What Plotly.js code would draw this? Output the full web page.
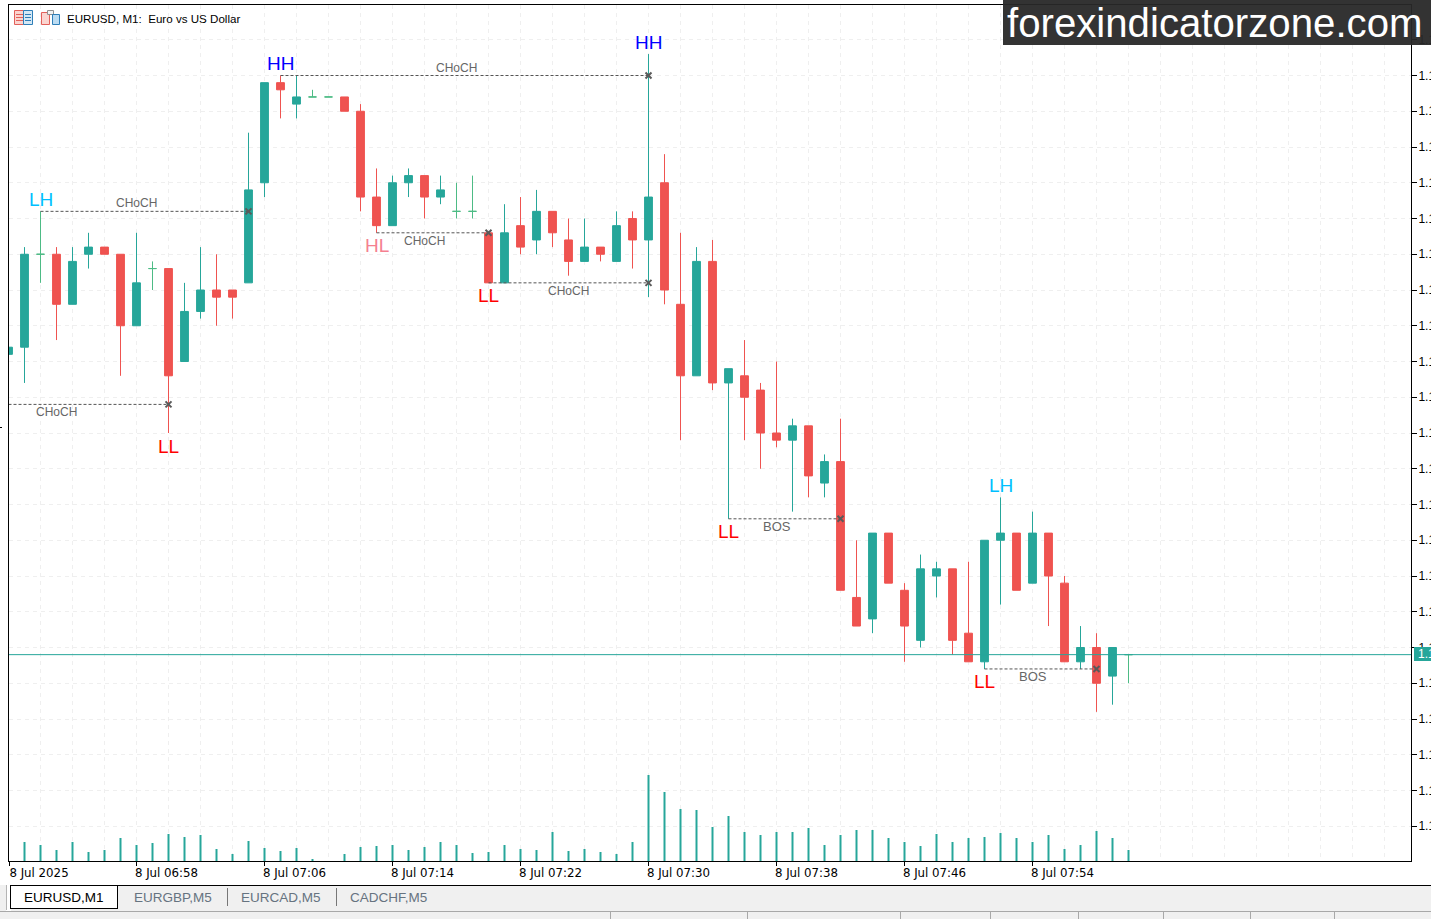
<!DOCTYPE html>
<html>
<head>
<meta charset="utf-8">
<script src="https://cdn.plot.ly/plotly-3.0.1.min.js"></script>
<style>html,body{margin:0;padding:0;background:#fff;overflow:hidden}#c{width:1431px;height:919px}</style>
</head>
<body>
<div id="c"></div>
<script>
const times = ['2025-07-08 06:50','2025-07-08 06:51','2025-07-08 06:52','2025-07-08 06:53','2025-07-08 06:54','2025-07-08 06:55','2025-07-08 06:56','2025-07-08 06:57','2025-07-08 06:58','2025-07-08 06:59',
'2025-07-08 07:00','2025-07-08 07:01','2025-07-08 07:02','2025-07-08 07:03','2025-07-08 07:04','2025-07-08 07:05','2025-07-08 07:06','2025-07-08 07:07','2025-07-08 07:08','2025-07-08 07:09',
'2025-07-08 07:10','2025-07-08 07:11','2025-07-08 07:12','2025-07-08 07:13','2025-07-08 07:14','2025-07-08 07:15','2025-07-08 07:16','2025-07-08 07:17','2025-07-08 07:18','2025-07-08 07:19',
'2025-07-08 07:20','2025-07-08 07:21','2025-07-08 07:22','2025-07-08 07:23','2025-07-08 07:24','2025-07-08 07:25','2025-07-08 07:26','2025-07-08 07:27','2025-07-08 07:28','2025-07-08 07:29',
'2025-07-08 07:30','2025-07-08 07:31','2025-07-08 07:32','2025-07-08 07:33','2025-07-08 07:34','2025-07-08 07:35','2025-07-08 07:36','2025-07-08 07:37','2025-07-08 07:38','2025-07-08 07:39',
'2025-07-08 07:40','2025-07-08 07:41','2025-07-08 07:42','2025-07-08 07:43','2025-07-08 07:44','2025-07-08 07:45','2025-07-08 07:46','2025-07-08 07:47','2025-07-08 07:48','2025-07-08 07:49',
'2025-07-08 07:50','2025-07-08 07:51','2025-07-08 07:52','2025-07-08 07:53','2025-07-08 07:54','2025-07-08 07:55','2025-07-08 07:56','2025-07-08 07:57','2025-07-08 07:58','2025-07-08 07:59',
'2025-07-08 08:00'];
const open = [1.17461,1.17462,1.17475,1.17475,1.17468,1.17475,1.17476,1.17475,1.17465,1.17473,
1.17473,1.17460,1.17467,1.17470,1.17470,1.17471,1.17485,1.17499,1.17496,1.17497,
1.17497,1.17497,1.17495,1.17483,1.17479,1.17485,1.17486,1.17483,1.17481,1.17481,
1.17478,1.17471,1.17479,1.17477,1.17481,1.17477,1.17474,1.17476,1.17474,1.17480,
1.17477,1.17485,1.17468,1.17458,1.17474,1.17457,1.17458,1.17456,1.17450,1.17449,
1.17451,1.17443,1.17446,1.17427,1.17424,1.17436,1.17428,1.17421,1.17430,1.17431,
1.17422,1.17418,1.17435,1.17436,1.17429,1.17436,1.17429,1.17418,1.17420,1.17416,1.17419];
const high = [1.17462,1.17476,1.17481,1.17476,1.17476,1.17478,1.17476,1.17475,1.17478,1.17474,
1.17473,1.17471,1.17476,1.17475,1.17470,1.17492,1.17499,1.17500,1.17500,1.17498,
1.17497,1.17497,1.17496,1.17487,1.17486,1.17487,1.17486,1.17486,1.17485,1.17486,
1.17478,1.17482,1.17483,1.17484,1.17481,1.17480,1.17480,1.17476,1.17481,1.17481,
1.17503,1.17489,1.17478,1.17476,1.17477,1.17459,1.17463,1.17457,1.17460,1.17452,
1.17451,1.17447,1.17452,1.17435,1.17436,1.17436,1.17429,1.17433,1.17432,1.17431,
1.17432,1.17435,1.17441,1.17436,1.17439,1.17436,1.17430,1.17423,1.17422,1.17420,1.17419];
const low = [1.17461,1.17457,1.17471,1.17463,1.17468,1.17473,1.17475,1.17458,1.17465,1.17470,
1.17450,1.17460,1.17466,1.17465,1.17466,1.17471,1.17483,1.17494,1.17494,1.17497,
1.17497,1.17495,1.17481,1.17478,1.17479,1.17483,1.17480,1.17482,1.17480,1.17480,
1.17471,1.17471,1.17475,1.17475,1.17476,1.17472,1.17474,1.17474,1.17474,1.17473,
1.17469,1.17468,1.17449,1.17458,1.17456,1.17438,1.17449,1.17445,1.17448,1.17439,
1.17441,1.17441,1.17428,1.17423,1.17422,1.17429,1.17418,1.17420,1.17427,1.17419,
1.17418,1.17417,1.17426,1.17428,1.17429,1.17423,1.17418,1.17417,1.17411,1.17412,1.17415];
const close = [1.17462,1.17475,1.17475,1.17468,1.17474,1.17476,1.17475,1.17465,1.17471,1.17473,
1.17458,1.17467,1.17470,1.17469,1.17469,1.17484,1.17499,1.17498,1.17497,1.17497,
1.17497,1.17495,1.17483,1.17479,1.17485,1.17486,1.17483,1.17484,1.17481,1.17481,
1.17471,1.17478,1.17476,1.17481,1.17478,1.17474,1.17476,1.17475,1.17479,1.17477,
1.17483,1.17470,1.17458,1.17474,1.17457,1.17459,1.17455,1.17450,1.17449,1.17451,
1.17444,1.17446,1.17428,1.17423,1.17436,1.17429,1.17423,1.17431,1.17431,1.17421,
1.17418,1.17435,1.17436,1.17428,1.17436,1.17430,1.17418,1.17420,1.17415,1.17420,1.17419];
const volume = [0,19,16,11,19,9,11,23,16,18,27,24,26,12,7,20,13,10,13,2,0,7,14,15,16,11,14,19,16,8,
9,16,12,11,29,10,12,9,7,19,86,69,52,51,34,45,29,26,29,29,33,16,26,31,31,23,19,15,27,19,23,24,28,23,19,26,12,16,30,23,11];

const xRangeStart = '2025-07-08 06:50:01.875';
const xRangeEnd = '2025-07-08 08:17:39.375';
const xTickVals = [xRangeStart,'2025-07-08 06:58','2025-07-08 07:06','2025-07-08 07:14','2025-07-08 07:22','2025-07-08 07:30','2025-07-08 07:38','2025-07-08 07:46','2025-07-08 07:54'];
const xTickText = ['8 Jul 2025','8 Jul 06:58','8 Jul 07:06','8 Jul 07:14','8 Jul 07:22','8 Jul 07:30','8 Jul 07:38','8 Jul 07:46','8 Jul 07:54'];

const swingIndex = [2,10,17,23,30,40,45,61,62];
const swingText = ['LH','LL','HH','HL','LL','HH','LL','LL','LH'];

const levelText = ['CHoCH','CHoCH','CHoCH','CHoCH','CHoCH','BOS','BOS'];
const levelPrice = [1.17481,1.17454,1.17500,1.17478,1.17471,1.17438,1.17417];
const levelFrom = [2,0,17,23,30,45,61];
const levelTo = [15,10,40,30,40,52,68];
const levelLabelAt = [8,3,28,26,35,48,64];
const lastPrice = 1.17419;

const tabNames = ['EURUSD,M1','EURGBP,M5','EURCAD,M5','CADCHF,M5'];

const TEAL='#26a69a', RED='#ef5350', DOJI='#4dbb85';
const isDoji = close.map((c,i)=>c===open[i]);
const pick = (a,flag)=>a.filter((_,i)=>isDoji[i]===flag);
const candle = (flag,up,dn)=>({type:'candlestick',x:pick(times,flag),open:pick(open,flag),high:pick(high,flag),low:pick(low,flag),close:pick(close,flag),
  increasing:{line:{color:up,width:1},fillcolor:up},decreasing:{line:{color:dn,width:1},fillcolor:dn},whiskerwidth:0,hoverinfo:'skip',showlegend:false});

const traces = [
  {type:'bar',x:times,y:volume,yaxis:'y2',width:7500,marker:{color:TEAL,line:{width:0}},hoverinfo:'skip',showlegend:false},
  candle(false,TEAL,RED),
  candle(true,DOJI,DOJI)
];
levelPrice.forEach((p,i)=>{
  traces.push({type:'scatter',mode:'lines',x:[times[levelFrom[i]],times[levelTo[i]]],y:[p,p],line:{color:'#555',width:1,dash:'3px,2px'},hoverinfo:'skip',showlegend:false});
  traces.push({type:'scatter',mode:'markers',x:[times[levelTo[i]]],y:[p],marker:{symbol:'x-thin',size:6,line:{color:'#5a5a5a',width:2}},hoverinfo:'skip',showlegend:false});
});

const PW=1402, PH=856;
const X=p=>(p-9)/PW, Y=p=>1-(p-5)/PH;
const rect=(x0,y0,x1,y1,fill,line)=>({type:'rect',xref:'paper',yref:'paper',x0:X(x0),x1:X(x1),y0:Y(y0),y1:Y(y1),fillcolor:fill,line:{color:line||fill,width:line?1:0},layer:'above'});
const seg=(x0,y0,x1,y1,c,w)=>({type:'line',xref:'paper',yref:'paper',x0:X(x0),x1:X(x1),y0:Y(y0),y1:Y(y1),line:{color:c,width:w||1},layer:'above'});

const shapes = [
  {type:'line',xref:'paper',yref:'y',x0:0,x1:1,y0:lastPrice,y1:lastPrice,line:{color:TEAL,width:1},layer:'above'},
  rect(1414,647,1431,661,TEAL),
  // watermark
  rect(1003,0,1431,45,'rgba(40,40,40,0.95)'),
  seg(0,427.5,2,427.5,'#000'),
  // bottom window chrome
  rect(0,885,6,919,'#f0f0f0'), seg(6.5,885,6.5,910,'#b4b4b4'),
  rect(11,886,1431,911,'#f0f0f0'),
  seg(10,885.5,1431,885.5,'#000'),
  rect(11,886,117,908,'#fff'),
  seg(10.5,885,10.5,908.5,'#000'), seg(10,908.5,118,908.5,'#000'), seg(117.5,885,117.5,908.5,'#000'),
  seg(227.5,888,227.5,906,'#777'), seg(336.5,888,336.5,906,'#777'),
  rect(0,911,1431,919,'#f0f0f0'), seg(0,911.5,1431,911.5,'#a8a8a8'),
  seg(610.5,912,610.5,919,'#a8a8a8'), seg(747.5,912,747.5,919,'#a8a8a8'), seg(900.5,912,900.5,919,'#a8a8a8'),
  seg(990.5,912,990.5,919,'#a8a8a8'), seg(1078.5,912,1078.5,919,'#a8a8a8'), seg(1163.5,912,1163.5,919,'#a8a8a8'),
  seg(1250.5,912,1250.5,919,'#a8a8a8'), seg(1334.5,912,1334.5,919,'#a8a8a8'),
  // title-bar icons
  rect(14.5,10.5,23.5,24.5,'#fbd5d0','#e2605a'), seg(16,14.5,23,14.5,'#e2605a'), seg(16,17.5,23,17.5,'#e2605a'), seg(16,20.5,23,20.5,'#e2605a'),
  rect(23.5,10.5,32.5,24.5,'#d6e8f5','#2f7fb8'), seg(25,14.5,31,14.5,'#2f7fb8'), seg(25,17.5,31,17.5,'#2f7fb8'), seg(25,20.5,31,20.5,'#2f7fb8'),
  rect(41.5,12.5,49.5,24.5,'#fbd5d0','#e2605a'), rect(47.5,10.5,53.5,14.5,'#f2f2f2','#909090'), rect(52.5,14.5,59.5,24.5,'#bcdcf2','#2f7fb8')
];

const swingColor={HH:'#0000ff',LH:'#00bfff',LL:'#ff0000',HL:'#f58090'};
const font='"Liberation Sans", Arial, sans-serif';
const ui='"DejaVu Sans", sans-serif';
const annotations = [];
swingText.forEach((t,i)=>{
  const k=swingIndex[i], above=t==='HH'||t==='LH';
  annotations.push({x:times[k],y:above?high[k]:low[k],text:t,showarrow:false,xanchor:'center',yanchor:'middle',yshift:above?12:-13,font:{family:font,size:19,color:swingColor[t]}});
});
levelText.forEach((t,i)=>{
  const above=i===0||i===2;
  annotations.push({x:times[levelLabelAt[i]],y:levelPrice[i],text:t,showarrow:false,xanchor:'center',yanchor:'middle',yshift:above?8:-8,font:{family:font,size:t==='BOS'?13:12,color:'#666'}});
});
const paperText=(px,py,t,size,color,anchor,fam)=>({xref:'paper',yref:'paper',x:X(px),y:Y(py),text:t,showarrow:false,xanchor:anchor||'left',yanchor:'middle',font:{family:fam||font,size:size,color:color}});
annotations.push(paperText(65,18,'EURUSD, M1:&nbsp;&nbsp;Euro vs US Dollar',11.6,'#000'));
annotations.push(paperText(1004.5,23,'forexindicatorzone.com',40.2,'#fff'));
annotations.push(paperText(1416,654,lastPrice.toFixed(5),12,'#fff'));
[[22,'#000'],[132,'#667380'],[239,'#667380'],[348,'#667380']].forEach((t,i)=>annotations.push(paperText(t[0],897.5,tabNames[i],13.5,t[1])));

const layout = {
  width:1431,height:919,paper_bgcolor:'#fff',plot_bgcolor:'#fff',
  margin:{l:9,r:20,t:5,b:58,pad:0},showlegend:false,boxgap:0.3,
  xaxis:{type:'date',range:[xRangeStart,xRangeEnd],rangeslider:{visible:false},
    tickmode:'array',tickvals:xTickVals,ticktext:xTickText,ticks:'outside',ticklen:4,tickcolor:'#000',ticklabelshift:30,ticklabelstandoff:-3,
    tickfont:{family:ui,size:11.8,color:'#000'},showline:true,linecolor:'#000',linewidth:1,mirror:true,
    showgrid:true,gridcolor:'#efefef',griddash:'4px,4px',zeroline:false,
    minor:{tick0:'2025-07-08 06:50',dtick:120000,showgrid:true,gridcolor:'#efefef',griddash:'4px,4px',ticks:''}},
  yaxis:{range:[1.1739014,1.1750986],side:'right',tick0:1.175,dtick:0.00005,tickformat:'.5f',ticks:'outside',ticklen:5,tickcolor:'#000',ticklabelstandoff:-1,
    tickfont:{family:font,size:12,color:'#000'},showline:true,linecolor:'#000',linewidth:1,mirror:true,
    showgrid:true,gridcolor:'#efefef',griddash:'4px,4px',zeroline:false},
  yaxis2:{overlaying:'y',range:[0,856],visible:false,fixedrange:true},
  shapes,annotations
};
Plotly.newPlot('c',traces,layout,{displayModeBar:false,staticPlot:true});
</script>
</body>
</html>
